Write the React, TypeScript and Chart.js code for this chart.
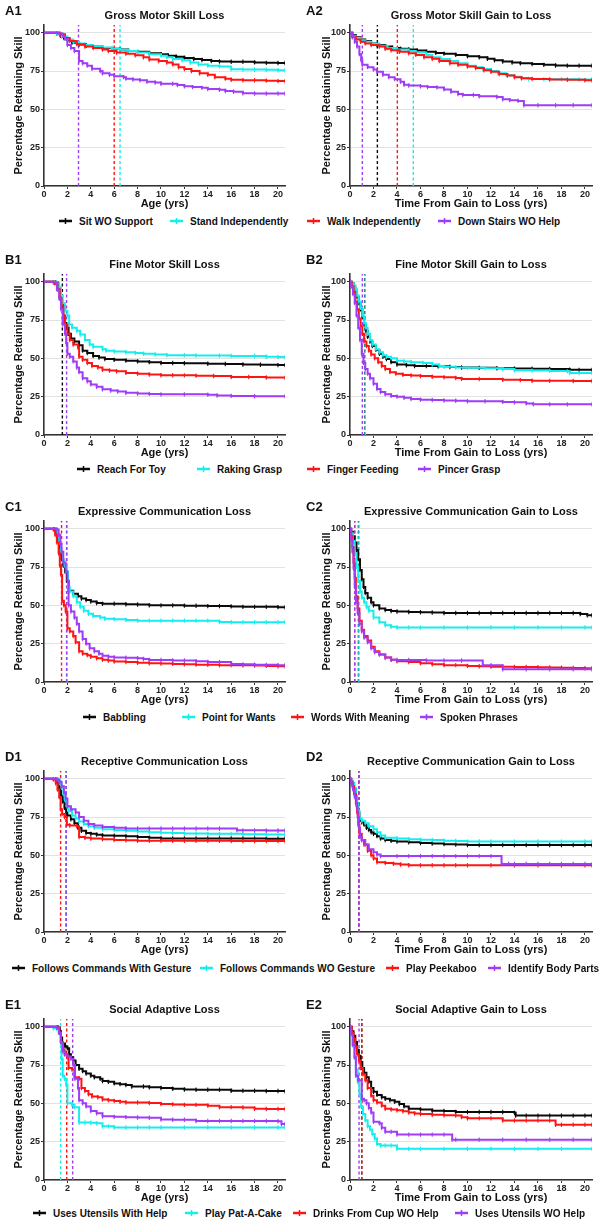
import React, { useEffect, useRef } from 'react';
import { Chart, registerables } from 'chart.js';
Chart.register(...registerables);

type Pt = [number, number];

const FONT = '"Liberation Sans", Arial, Helvetica, sans-serif';
const COLORS = ['#0a0a0a', '#14EEEE', '#FF1414', '#A03CF5'];

const xTicks = [0, 2, 4, 6, 8, 10, 12, 14, 16, 18, 20];
const yTicks = [0, 25, 50, 75, 100];
const X_MAX = 20.6;
const Y_MAX = 105;
const yTitle = 'Percentage Retaining Skill';
const xTitleAge = 'Age (yrs)';
const xTitleGain = 'Time From Gain to Loss (yrs)';

// ---------- Row A : Gross Motor ----------
const rowA_labels = ['Sit WO Support', 'Stand Independently', 'Walk Independently', 'Down Stairs WO Help'];
const A1_sit: Pt[] = [[0,100],[1.1,99.5],[1.4,98],[1.7,96.5],[2,95],[2.4,93.5],[3,92.3],[3.6,91.5],[4.2,91],[5,90],[5.8,89.5],[6.5,89],[7.2,88],[8,87.5],[9,86.5],[10,86],[10.6,85],[11.3,84.3],[12,83.5],[12.8,82.8],[13.5,82.2],[14.3,81.5],[15,81.2],[16,81],[17,81],[18,80.6],[19,80.3],[20,80.2],[20.6,80.2]];
const A1_stand: Pt[] = [[0,100],[1.1,99.5],[1.5,97.5],[2,95.5],[2.5,94],[3,93],[3.5,92],[4.2,91.2],[5,90.3],[5.8,89.5],[6.5,88.8],[7.2,88],[8,87],[9,86],[10,85],[10.5,84],[11,82.8],[11.8,82],[12.5,80.5],[13.2,79.3],[14,78.5],[15,78],[16,76.2],[17,76],[18,76],[19,75.8],[20,75.5],[20.6,75.5]];
const A1_walk: Pt[] = [[0,100],[1.4,99],[1.8,96.5],[2.2,94.5],[2.8,92.5],[3.5,91],[4.2,90],[5,89],[5.5,88],[6.2,87],[7,86.3],[7.8,85.3],[8.5,84],[9,82.5],[9.8,81.5],[10.5,80.5],[11,79.3],[11.5,77.5],[12,76.3],[12.6,75],[13.3,73.5],[14,72.5],[14.6,71],[15.5,70],[16,69.3],[17,69],[18,69],[19,68.7],[20,68.4],[20.6,68.4]];
const A1_stairs: Pt[] = [[0,100],[1.3,99.5],[1.6,98],[1.8,96],[2,92],[2.3,90],[2.6,88],[3,81.5],[3.3,80],[3.7,78.5],[4.1,76.5],[4.8,75],[5,73.5],[5.6,72.5],[6,71.5],[6.8,71],[7,70],[7.6,69.5],[8.2,69],[8.8,68],[9.5,67.5],[10,66.7],[11,66.7],[11.4,65.8],[12,65],[12.7,64.5],[13.5,64],[14,63.2],[15,62.8],[15.5,62],[16.2,61.5],[17,60.5],[18,60.3],[19,60.3],[20,60.3],[20.6,60.3]];
const A1_medians = [null, 6.5, 6.0, 2.95];

const A2_sit: Pt[] = [[0,100],[0.2,98.5],[0.5,97],[0.9,95.5],[1.3,94.5],[1.8,93],[2.3,92],[3,91],[3.6,90],[4.3,89.5],[5,89],[5.7,88.3],[6.5,87.5],[7.3,86.8],[8,86.3],[9,85.5],[10,84.7],[11,84],[11.7,83],[12.3,82],[13,81.2],[13.8,80.5],[14.5,80],[15.5,79.5],[16.5,79],[17.5,78.6],[18.5,78.5],[19.5,78.5],[20.6,78.4]];
const A2_stand: Pt[] = [[0,100],[0.2,98],[0.5,96.5],[0.9,95],[1.3,94],[1.8,93],[2.5,91.5],[3.2,90],[4,89],[5,88],[5.6,87],[6.5,85.5],[7,84],[7.7,82.8],[8.5,81.5],[9.2,80],[10,78.5],[10.7,77.5],[11.3,76.3],[12,75],[12.6,73.5],[13.3,72.3],[14,71.3],[14.6,70.3],[15.2,69.8],[16.5,69.7],[18,69.6],[19.5,69.5],[20.6,69.5]];
const A2_walk: Pt[] = [[0,100],[0.2,97.5],[0.5,95.5],[0.9,94],[1.3,93],[1.8,92],[2.5,91],[3,89.5],[3.5,88.5],[4.2,87.5],[5,86.5],[5.6,85.5],[6.3,84],[7,83],[7.6,81.5],[8.5,80],[9.2,79],[10,78],[10.7,77],[11.4,75.5],[12,74.5],[12.7,73],[13.4,72],[14,71],[14.6,70.3],[15.5,69.8],[17,69.5],[18.5,69.3],[20,69],[20.6,69]];
const A2_stairs: Pt[] = [[0,100],[0.2,97],[0.4,94],[0.6,91],[0.8,86],[0.95,82],[1.05,79],[1.5,77.5],[2,76],[2.3,74.5],[2.8,72.5],[3.3,71],[3.8,69.7],[4.3,68],[4.6,66],[5,65.5],[6,65],[6.6,64.5],[7.4,64.3],[8,63],[8.6,61.5],[9.2,60],[9.6,59.3],[10.5,59.3],[11,58.5],[12.5,58],[13,56.5],[13.6,56],[14.3,55.5],[14.8,52.7],[16,52.7],[17.5,52.7],[19,52.7],[20.6,52.7]];
const A2_medians = [2.33, 5.39, 4.03, 1.05];

// ---------- Row B : Fine Motor ----------
const rowB_labels = ['Reach For Toy', 'Raking Grasp', 'Finger Feeding', 'Pincer Grasp'];
const B1_reach: Pt[] = [[0,100],[1,99.5],[1.2,96],[1.35,91],[1.5,85],[1.65,78],[1.75,73],[1.9,70],[2.1,66],[2.3,63],[2.6,61],[3,58.5],[3.3,55],[3.7,53.5],[4.2,51.5],[4.7,50.5],[5.2,49.5],[6,49],[7,48.5],[8,48],[9,47.5],[10,47],[11,47],[12,46.8],[14,46.5],[15.5,46.3],[17,46],[18.5,45.8],[20,45.6],[20.6,45.6]];
const B1_raking: Pt[] = [[0,100],[1.1,99],[1.3,96],[1.45,91],[1.6,86],[1.8,81],[2,78],[2.15,72],[2.4,70],[2.8,68],[3.1,65.5],[3.5,62],[3.9,59],[4.2,57.5],[5,56],[5.3,55],[6,54.5],[7,54],[7.8,53.5],[8.5,53],[9.5,52.5],[10.5,52],[12,52],[13,51.8],[15,51.8],[16,51.5],[18,51.5],[19,51],[20,50.8],[20.6,50.8]];
const B1_finger: Pt[] = [[0,100],[0.9,99],[1.15,95],[1.35,89],[1.5,84],[1.65,78],[1.8,72],[2,66],[2.2,62],[2.5,59],[2.9,57],[3,51],[3.3,49],[3.7,47],[4.1,45],[4.6,44],[5,42.5],[5.6,42],[6.2,41.5],[7,40.5],[8,40],[9,39.5],[10,39],[11,39],[12,38.9],[13,38.7],[14.5,38.5],[16,37.8],[17.5,37.8],[19,37.5],[20.6,37.3]];
const B1_pincer: Pt[] = [[0,100],[0.8,99.5],[1.1,95],[1.3,89],[1.45,82],[1.6,72],[1.8,66],[1.9,60],[2,53],[2.2,51],[2.5,48],[2.8,44],[3,41],[3.3,37],[3.7,35],[4,33],[4.5,31.5],[5,29.8],[5.7,29],[6.3,28.3],[7,27.5],[8,27],[9,26.8],[10,26.5],[12,26.5],[14,26.3],[14.8,25.8],[16,25.5],[18,25.3],[20.6,25.2]];
const B1_medians = [1.57, null, null, 1.93];

const B2_reach: Pt[] = [[0,100],[0.15,99],[0.3,97],[0.45,94],[0.6,90],[0.75,86],[0.9,82],[1.05,77],[1.2,72],[1.35,68],[1.5,64],[1.7,61],[1.9,58],[2.2,55.5],[2.5,53],[2.8,51],[3.1,49.5],[3.5,47.5],[4,46],[4.8,45.5],[5.5,45],[6.5,45],[7.5,44.8],[8.5,44.3],[9.5,44],[11,43.8],[12.5,43.5],[14,43.3],[15.5,43.2],[17,43],[18.7,42.6],[19.5,42.5],[20.6,42.5]];
const B2_raking: Pt[] = [[0,100],[0.15,99],[0.3,97.5],[0.45,95],[0.6,91],[0.75,87],[0.9,83],[1.05,78],[1.2,73],[1.35,70],[1.5,66],[1.7,62],[1.9,59],[2.2,56],[2.5,54],[2.8,52],[3.1,51],[3.5,50],[4,48.5],[4.6,48],[5.2,47.5],[6.2,47],[7,46],[7.6,45],[8,44.5],[9,44],[10,43.8],[11.5,43.5],[13,43],[14,42.2],[15.5,42],[17,41.8],[18.5,41.5],[18.7,40.4],[19.5,40.4],[20.6,40.4]];
const B2_finger: Pt[] = [[0,100],[0.15,97],[0.3,93],[0.45,87],[0.6,82],[0.75,76],[0.9,71],[1.05,66],[1.2,61],[1.4,58],[1.6,55],[1.8,52.5],[2.1,50],[2.4,47.5],[2.7,45],[3,43],[3.4,41],[3.9,40],[4.5,39.2],[5.2,38.8],[6,38.4],[7,38],[8,37.6],[9,37.2],[9.5,36.6],[11,36.5],[13,36],[14.5,35.8],[15.5,35.4],[17,35.3],[19,35.2],[20.6,35.2]];
const B2_pincer: Pt[] = [[0,100],[0.1,97],[0.25,92],[0.4,86],[0.55,78],[0.7,70],[0.85,62],[1,53],[1.15,47],[1.3,43],[1.5,40],[1.7,37],[2,33.5],[2.3,30],[2.6,28],[3,26.5],[3.5,25.5],[4,25],[4.6,24.3],[5.2,23.5],[6,23],[7,22.8],[8,22.5],[9,22.3],[10,22],[11.5,22],[13,21.6],[14,21.3],[15,20.6],[15.6,20.1],[17,20],[18.5,20],[20.6,20]];
const B2_medians = [1.27, 1.3, null, 1.05];

// ---------- Row C : Expressive Communication ----------
const rowC_labels = ['Babbling', 'Point for Wants', 'Words With Meaning', 'Spoken Phrases'];
const C1_babbling: Pt[] = [[0,100],[0.9,99.5],[1,97],[1.15,93],[1.3,88],[1.4,84],[1.5,80],[1.65,76],[1.8,72],[1.95,66],[2.1,59.5],[2.5,57.5],[2.9,56],[3.2,54.5],[3.6,53.5],[4,52.5],[4.5,51.5],[5,51],[6,51],[7,50.7],[8,50.5],[9,50],[10,50],[11,50],[12,49.8],[13,49.7],[14,49.5],[15,49.5],[16,49.3],[17,49],[18,49],[19,49],[20,48.8],[20.6,48.7]];
const C1_point: Pt[] = [[0,100],[1,99.5],[1.15,96],[1.3,91],[1.45,85],[1.6,79],[1.75,76],[1.95,72],[2.05,62],[2.2,59],[2.5,56],[2.8,52],[3.1,49],[3.4,46.5],[3.8,44.5],[4.2,43],[4.8,42],[5.2,41.2],[6,41],[7,40.5],[8,40],[9,40],[10,40],[11,40],[12,40],[13,40],[14,40],[15,39.2],[16,39],[17,39],[18,39],[19,39],[20,39],[20.6,39]];
const C1_words: Pt[] = [[0,100],[0.8,99.5],[0.95,96],[1.1,91],[1.25,84],[1.35,76],[1.45,70],[1.55,53],[1.7,50],[1.85,46],[2,35],[2.2,33],[2.5,30],[2.7,26],[3,20],[3.3,18.5],[3.7,17.5],[4,16.5],[4.5,15.5],[5,14.5],[5.5,14],[6,13.3],[7,13],[8,12.5],[9,12.2],[10,12],[11,11.8],[12,11.5],[13,11.3],[14,11.2],[15,11],[16,11],[17,10.9],[18,10.7],[19,10.5],[20,10.3],[20.6,10.3]];
const C1_phrases: Pt[] = [[0,100],[1.1,99.5],[1.25,96],[1.4,90],[1.5,85],[1.65,78],[1.85,72],[2,66],[2.1,50],[2.3,46],[2.6,42],[2.8,38],[3,33],[3.3,28],[3.6,25],[3.9,22],[4.3,20],[4.7,18.5],[5,17.2],[5.5,16.5],[6,16],[7,15.8],[8,15.5],[8.5,15],[9,14.4],[10,14.3],[11,14],[12,14],[13,13.5],[14,13],[15,13],[16,11.8],[17,11.5],[18,11.3],[19,11.2],[20,11],[20.6,11]];
const C1_medians = [null, 1.97, 1.5, 1.93];

const C2_babbling: Pt[] = [[0,100],[0.1,98],[0.25,95],[0.4,91],[0.55,86],[0.7,80],[0.85,73],[1,67],[1.15,62],[1.3,58],[1.5,55],[1.8,52],[2,50],[2.5,48],[3,47],[3.5,46.3],[4,46],[5,45.7],[6,45.5],[7,45.3],[8,45],[9,45],[10,45],[11,45],[12,45],[13,45],[14,45],[15,45],[16,45],[17,45],[18,45],[19,45],[19.6,44.3],[20.2,43.5],[20.6,43.5]];
const C2_point: Pt[] = [[0,100],[0.1,97],[0.25,92],[0.4,84],[0.55,75],[0.7,66],[0.85,59],[1,55],[1.2,52],[1.4,49],[1.6,46.5],[2,42],[2.5,39],[3,37],[3.5,36],[4,35.5],[5,35.5],[6,35.5],[8,35.5],[10,35.5],[12,35.5],[14,35.5],[16,35.5],[18,35.5],[20,35.5],[20.6,35.5]];
const C2_words: Pt[] = [[0,100],[0.1,95],[0.2,88],[0.3,78],[0.4,68],[0.5,56],[0.65,48],[0.8,40],[1,34],[1.2,30],[1.5,27],[1.8,23],[2.1,20],[2.5,18],[3,16],[3.5,14.5],[4,13.5],[5,13],[6,12.3],[7,11.5],[8,11],[9,11],[10,10.5],[11,10.3],[12,10],[13,10],[14,9.8],[15,9.8],[16,9.7],[17,9.5],[18,9.3],[19,9.2],[20,9],[20.6,9]];
const C2_phrases: Pt[] = [[0,100],[0.1,93],[0.2,85],[0.3,74],[0.4,62],[0.5,52],[0.65,45],[0.8,38],[1,33],[1.2,29],[1.5,26],[1.8,22],[2.1,19.5],[2.5,18],[3,16],[3.5,14.5],[4,14.4],[5,14.4],[6.5,14],[8,14],[9.5,14],[11.3,11],[12,11],[13,8.3],[15,8.3],[17,8.3],[19,8.3],[20.6,8.3]];
const C2_medians = [0.72, 0.76, 0.4, 0.4];

// ---------- Row D : Receptive Communication ----------
const rowD_labels = ['Follows Commands With Gesture', 'Follows Commands WO Gesture', 'Play Peekaboo', 'Identify Body Parts'];
const D1_withGesture: Pt[] = [[0,100],[1,99.5],[1.15,97],[1.3,93],[1.45,89],[1.6,85],[1.75,81],[1.9,78],[2,76],[2.3,73.5],[2.6,71],[2.9,68],[3.2,66],[3.6,64.5],[4,64],[4.5,63.5],[5,63],[6,62.8],[7,62.5],[8,62],[9,61.5],[10,61],[11,61],[12,61],[13,61],[14,61],[15,61],[16,61],[17,61],[18,61],[19,60.8],[20,60.8],[20.6,60.8]];
const D1_woGesture: Pt[] = [[0,100],[1.2,99.5],[1.35,97],[1.5,94],[1.65,90],[1.8,86],[1.95,82],[2.1,79],[2.4,76],[2.7,74],[3,72],[3.4,70.5],[3.8,69],[4.3,68],[5,67],[6,66.5],[7,66],[8,65.5],[9,65],[10,64.8],[11,64.5],[12,64.3],[13,64.2],[14,64],[15,64],[16,64],[17,63.8],[18,63.8],[19,63.6],[20,63.6],[20.6,63.6]];
const D1_peekaboo: Pt[] = [[0,100],[0.8,99.5],[1,97],[1.15,93],[1.3,88],[1.42,80],[1.55,77],[1.75,75],[1.95,70],[2.2,69.5],[2.8,69],[3,62],[3.5,61.5],[4,61],[5,60.5],[6,60],[7,59.8],[8,59.5],[9,59.5],[10,59.5],[11,59.5],[12,59.5],[13,59.5],[14,59.5],[15,59.5],[16,59.3],[17,59.3],[18,59.3],[19,59.3],[20,59.3],[20.6,59.3]];
const D1_bodyParts: Pt[] = [[0,100],[1.1,99.5],[1.3,98],[1.5,95],[1.7,91],[1.85,87],[2,82],[2.3,80],[2.7,78],[3,75],[3.4,72.5],[3.8,70.5],[4.3,69.5],[5,68.5],[6,68],[7,67.5],[8,67.5],[9,67.5],[10,67.5],[11,67.5],[12,67.5],[13,67.5],[14,67.5],[15,67.5],[16.5,66.3],[17,66.3],[18,66.3],[19,66.2],[20,66.2],[20.6,66.2]];
const D1_medians = [1.9, 1.9, 1.42, 1.9];

const D2_withGesture: Pt[] = [[0,100],[0.1,98.5],[0.2,97],[0.35,93],[0.5,88],[0.6,84],[0.7,78],[0.8,72.5],[1,71.5],[1.2,70],[1.4,68],[1.6,66.5],[1.8,65],[2,64],[2.3,62.5],[2.6,61],[3,60],[3.5,59.5],[4,59],[5,58.5],[6,58],[7,57.7],[8,57.3],[9,57],[10,56.7],[11,56.7],[12,56.7],[13,56.7],[14,56.7],[15,56.7],[16,56.7],[17,56.7],[18,56.7],[19,56.7],[20,56.7],[20.6,56.7]];
const D2_woGesture: Pt[] = [[0,100],[0.1,99],[0.2,97],[0.35,94],[0.5,89],[0.6,84],[0.7,79],[0.8,74],[1,72.5],[1.3,71],[1.6,69],[2,67],[2.3,65],[2.6,63],[3,61.5],[4,61],[5,60.5],[6,60.2],[7,60],[8,59.5],[9,59.3],[10,59],[11,59],[12,59],[14,59],[16,59],[18,59],[20,59],[20.6,59]];
const D2_peekaboo: Pt[] = [[0,100],[0.1,98],[0.2,95],[0.35,90],[0.5,84],[0.6,78],[0.7,70],[0.8,64],[1,60],[1.2,57],[1.5,53],[1.8,50],[2,48],[2.3,45.5],[3,45],[3.7,44.5],[4.3,44],[5,43.5],[6,43.5],[7,43.5],[8,43.5],[9,43.5],[10,43.5],[12,43.5],[14,43.5],[16,43.5],[18,43.5],[20,43.5],[20.6,43.5]];
const D2_bodyParts: Pt[] = [[0,100],[0.1,97],[0.25,93],[0.4,88],[0.55,82],[0.65,75],[0.75,68],[0.85,62],[1,60],[1.3,57],[1.6,54],[2,52],[2.3,50.5],[2.6,49.5],[4,49.5],[5,49.5],[6,49.5],[7,49.5],[8,49.5],[9,49.5],[10,49.5],[11,49.5],[12,49.5],[12.9,44.3],[13.5,44.3],[14,44.3],[15,44.3],[16,44.3],[17,44.3],[18,44.3],[19,44.3],[20,44.3],[20.6,44]];
const D2_medians = [0.75, 0.75, 0.75, 0.75];

// ---------- Row E : Social Adaptive ----------
const rowE_labels = ['Uses Utensils With Help', 'Play Pat-A-Cake', 'Drinks From Cup WO Help', 'Uses Utensils WO Help'];
const E1_withHelp: Pt[] = [[0,100],[1.2,99.5],[1.35,97],[1.45,93],[1.55,89],[1.8,87],[2,86],[2.15,82],[2.3,80],[2.5,78],[2.7,75],[3,72.5],[3.3,71],[3.6,69.5],[4,68],[4.3,67],[4.8,66],[5,64.5],[5.5,64],[6,63],[6.5,62.5],[7,62],[7.5,61],[8.5,61],[9,60.5],[10,60],[11,59.5],[12,59],[13,58.9],[14,58.9],[15,58.9],[16,58.2],[17,58.2],[18,58.2],[19,58],[20,58],[20.6,57.8]];
const E1_patACake: Pt[] = [[0,100],[0.8,99],[1.1,98.5],[1.25,96],[1.4,90],[1.5,79],[1.6,68],[1.75,66],[1.9,62],[2,50],[2.4,49],[2.6,47.5],[3,37.5],[3.5,37.5],[4,37.3],[4.5,37],[5,35],[5.5,35],[6,34.2],[7,34.2],[8,34.2],[9,34.2],[10,34.2],[12,34.2],[14,34.2],[16,34.2],[18,34.2],[20,34.2],[20.6,34.2]];
const E1_cup: Pt[] = [[0,100],[1.1,99.5],[1.3,96],[1.45,90],[1.6,85],[1.75,82],[2,80],[2.1,73],[2.4,72],[2.6,67],[3,66],[3.2,60],[3.5,58],[3.8,56],[4.1,54.5],[4.6,54],[5,52.5],[5.5,52],[6,51.5],[6.5,51],[7,50.5],[8,50.5],[9,50.2],[10,49.5],[11,49.3],[12,49],[13,49],[14,48.5],[15,47.5],[16,47.5],[17,47.3],[18,46.5],[19,46.3],[20,46.3],[20.6,46.3]];
const E1_woHelp: Pt[] = [[0,100],[1.1,99.5],[1.3,96],[1.45,90],[1.6,84],[1.8,82],[2,80.5],[2.3,79],[2.5,75],[2.65,66],[2.9,60],[3,52],[3.3,50],[3.6,48],[4,45],[4.5,43.5],[5,41.5],[6,41.2],[7,41],[8,40.8],[9,40.6],[10,39.5],[11,39.3],[12,39.3],[13,38.5],[14,38.5],[15,38.5],[16,38.5],[17,38.5],[18,38.5],[19,38.5],[20,38.3],[20.3,36.5],[20.6,36.5]];
const E1_medians = [null, 1.42, 1.94, 2.45];

const E2_withHelp: Pt[] = [[0,100],[0.15,97],[0.3,94],[0.45,90],[0.6,85],[0.75,81],[0.9,77],[1.05,73],[1.2,70],[1.4,67],[1.6,64],[1.8,60],[2,57.5],[2.3,55.5],[2.7,54],[3,53],[3.4,52],[3.8,51],[4.2,49.5],[4.6,48],[5,46.5],[6,46],[7,45.2],[8,45],[9,44.3],[10,44.3],[11,44.3],[12,44.3],[13,44.3],[14,43.8],[14.1,42],[15,42],[16,42],[17,42],[18,42],[19,42],[20,42],[20.6,42]];
const E2_patACake: Pt[] = [[0,100],[0.1,95],[0.2,88],[0.35,80],[0.5,72],[0.65,64],[0.8,56],[0.95,48],[1.1,43],[1.3,39],[1.5,35],[1.7,33],[1.9,30],[2.1,27],[2.3,23.5],[2.6,22.5],[3,22.5],[3.5,22.5],[4,20.3],[5,20.3],[6,20.3],[8,20.3],[10,20.3],[12,20.3],[14,20.3],[16,20.3],[18,20.3],[20.6,20.3]];
const E2_cup: Pt[] = [[0,100],[0.15,96],[0.3,92],[0.45,87],[0.6,82],[0.75,78],[0.9,73],[1.1,69],[1.3,65],[1.5,60],[1.8,55],[2,52],[2.3,50.5],[2.7,48.5],[3,46.5],[3.5,46],[4,45.5],[4.5,44.8],[5,44],[5.5,43.3],[6,43],[7,42.5],[8,42.2],[9,42],[9.5,41],[10,40.2],[11,40.2],[12,40.2],[13,38.8],[14,38.8],[15,38.8],[16,38.8],[17,38.8],[17.5,36],[18,36],[19,36],[20,36],[20.6,36]];
const E2_woHelp: Pt[] = [[0,100],[0.1,95],[0.25,88],[0.4,80],[0.5,68],[0.7,65],[1,53],[1.2,52],[1.4,50],[1.6,47],[1.8,44],[2,38],[2.5,37],[2.7,34],[3,31.5],[3.5,31.5],[4,29.6],[5,29.6],[6,29.6],[7,29.6],[8,29.6],[8.7,26.3],[9,26.3],[11,26.3],[13,26.3],[15,26.3],[17,26.3],[19,26.3],[20.6,26.3]];
const E2_medians = [1.0, null, 1.0, 0.77];

// ---------- Layout ----------
const ROW_PLOT_TOP = [25, 274, 521, 771, 1019];
const LEGEND_Y = [221, 469, 717, 968, 1213];
const LEGEND_X = [
  [59, 170, 307, 438],
  [77, 197, 307, 418],
  [83, 182, 291, 420],
  [12, 200, 386, 488],
  [33, 185, 293, 455],
];
const TITLE_BOX = 25;
const CANVAS_H = 211;
const X_AXIS_H = 25;

interface PanelDef {
  label: string;
  title: string;
  xTitle: string;
  series: Pt[][];
  medians: (number | null)[];
}

const rows: { labels: string[]; panels: PanelDef[] }[] = [
  {
    labels: rowA_labels,
    panels: [
      { label: 'A1', title: 'Gross Motor Skill Loss', xTitle: xTitleAge, series: [A1_sit, A1_stand, A1_walk, A1_stairs], medians: A1_medians },
      { label: 'A2', title: 'Gross Motor Skill Gain to Loss', xTitle: xTitleGain, series: [A2_sit, A2_stand, A2_walk, A2_stairs], medians: A2_medians },
    ],
  },
  {
    labels: rowB_labels,
    panels: [
      { label: 'B1', title: 'Fine Motor Skill Loss', xTitle: xTitleAge, series: [B1_reach, B1_raking, B1_finger, B1_pincer], medians: B1_medians },
      { label: 'B2', title: 'Fine Motor Skill Gain to Loss', xTitle: xTitleGain, series: [B2_reach, B2_raking, B2_finger, B2_pincer], medians: B2_medians },
    ],
  },
  {
    labels: rowC_labels,
    panels: [
      { label: 'C1', title: 'Expressive Communication Loss', xTitle: xTitleAge, series: [C1_babbling, C1_point, C1_words, C1_phrases], medians: C1_medians },
      { label: 'C2', title: 'Expressive Communication Gain to Loss', xTitle: xTitleGain, series: [C2_babbling, C2_point, C2_words, C2_phrases], medians: C2_medians },
    ],
  },
  {
    labels: rowD_labels,
    panels: [
      { label: 'D1', title: 'Receptive Communication Loss', xTitle: xTitleAge, series: [D1_withGesture, D1_woGesture, D1_peekaboo, D1_bodyParts], medians: D1_medians },
      { label: 'D2', title: 'Receptive Communication Gain to Loss', xTitle: xTitleGain, series: [D2_withGesture, D2_woGesture, D2_peekaboo, D2_bodyParts], medians: D2_medians },
    ],
  },
  {
    labels: rowE_labels,
    panels: [
      { label: 'E1', title: 'Social Adaptive Loss', xTitle: xTitleAge, series: [E1_withHelp, E1_patACake, E1_cup, E1_woHelp], medians: E1_medians },
      { label: 'E2', title: 'Social Adaptive Gain to Loss', xTitle: xTitleGain, series: [E2_withHelp, E2_patACake, E2_cup, E2_woHelp], medians: E2_medians },
    ],
  },
];

function Panel({ def, col, top }: { def: PanelDef; col: number; top: number }) {
  const ref = useRef<HTMLCanvasElement | null>(null);
  useEffect(() => {
    if (!ref.current) return;
    const datasets: any[] = [];
    def.medians.forEach((m, i) => {
      if (m == null) return;
      datasets.push({
        data: [{ x: m, y: 0 }, { x: m, y: Y_MAX }],
        borderColor: COLORS[i],
        borderWidth: 1.4,
        borderDash: [3, 2.5],
        pointRadius: 0,
        fill: false,
        order: 30 - i,
      });
    });
    def.series.forEach((s, i) => {
      datasets.push({
        data: s.map(([x, y]) => ({ x, y })),
        stepped: 'before',
        borderColor: COLORS[i],
        borderWidth: 2,
        pointStyle: 'line',
        pointRotation: 90,
        pointRadius: 2.2,
        pointHoverRadius: 2.2,
        pointBorderWidth: 1.1,
        pointBorderColor: COLORS[i],
        pointBackgroundColor: COLORS[i],
        fill: false,
        order: 4 - i,
      });
    });
    const tickFont = { family: FONT, size: 9, weight: 'bold' as const };
    const titleFont = { family: FONT, size: 11, weight: 'bold' as const };
    const chart = new Chart(ref.current, {
      type: 'line',
      data: { datasets },
      options: {
        responsive: false,
        maintainAspectRatio: false,
        animation: false,
        events: [],
        layout: { padding: { left: 0, right: col === 0 ? 15 : 8, top: 0, bottom: 0 } },
        plugins: {
          legend: { display: false },
          tooltip: { enabled: false },
          title: {
            display: true,
            text: def.title,
            fullSize: false,
            color: '#111',
            font: titleFont,
            padding: { top: 9, bottom: TITLE_BOX - 9 - 13.2 },
          },
        },
        scales: {
          x: {
            type: 'linear',
            min: 0,
            max: X_MAX,
            afterBuildTicks: (s: any) => {
              s.ticks = xTicks.map((v) => ({ value: v }));
            },
            afterFit: (s: any) => {
              s.height = X_AXIS_H;
            },
            grid: { drawOnChartArea: false, drawTicks: true, tickLength: 3, tickColor: '#333', tickWidth: 1 },
            border: { display: true, color: '#333', width: 1.6 },
            ticks: { font: tickFont, color: '#222', padding: 0, maxRotation: 0, autoSkip: false },
            title: { display: true, text: def.xTitle, color: '#111', font: titleFont, padding: 0 },
          },
          y: {
            type: 'linear',
            min: 0,
            max: Y_MAX,
            afterBuildTicks: (s: any) => {
              s.ticks = yTicks.map((v) => ({ value: v }));
            },
            afterFit: (s: any) => {
              s.width = col === 0 ? 44 : 50;
            },
            grid: { color: '#e2e2e2', lineWidth: 1, drawTicks: true, tickLength: 3, tickColor: '#333', tickWidth: 1 },
            border: { display: true, color: '#333', width: 1.6 },
            ticks: { font: tickFont, color: '#222', padding: 1, autoSkip: false },
            title: { display: true, text: yTitle, color: '#111', font: titleFont, padding: { top: col === 0 ? 12 : 20, bottom: 0 } },
          },
        },
      } as any,
    });
    return () => chart.destroy();
  }, []);
  return (
    <canvas
      ref={ref}
      width={300}
      height={CANVAS_H}
      style={{ position: 'absolute', left: col * 300, top, width: 300, height: CANVAS_H, display: 'block' }}
    />
  );
}

function LegendMarker({ color }: { color: string }) {
  return (
    <svg width={13} height={8} style={{ display: 'block' }}>
      <line x1={0} y1={4} x2={13} y2={4} stroke={color} strokeWidth={2.5} />
      <line x1={6.5} y1={1} x2={6.5} y2={7} stroke={color} strokeWidth={1.5} />
    </svg>
  );
}

export default function App() {
  return (
    <div
      style={{
        position: 'absolute',
        left: 0,
        top: 0,
        width: 600,
        height: 1223,
        background: '#fff',
        overflow: 'hidden',
        fontFamily: FONT,
      }}
    >
      {rows.map((row, r) => {
        const plotTop = ROW_PLOT_TOP[r];
        return (
          <React.Fragment key={r}>
            {row.panels.map((p, c) => (
              <React.Fragment key={p.label}>
                <Panel def={p} col={c} top={plotTop - TITLE_BOX} />
                <div
                  style={{
                    position: 'absolute',
                    left: c === 0 ? 5 : 306,
                    top: plotTop - 21.5,
                    fontSize: 13,
                    lineHeight: '13px',
                    fontWeight: 'bold',
                    color: '#111',
                  }}
                >
                  {p.label}
                </div>
              </React.Fragment>
            ))}
            {row.labels.map((lab, i) => (
              <div
                key={lab}
                style={{
                  position: 'absolute',
                  left: LEGEND_X[r][i],
                  top: LEGEND_Y[r] - 7,
                  height: 14,
                  display: 'flex',
                  alignItems: 'center',
                  whiteSpace: 'nowrap',
                }}
              >
                <LegendMarker color={COLORS[i]} />
                <span style={{ marginLeft: 7, fontSize: 10, fontWeight: 'bold', color: '#111' }}>{lab}</span>
              </div>
            ))}
          </React.Fragment>
        );
      })}
    </div>
  );
}
